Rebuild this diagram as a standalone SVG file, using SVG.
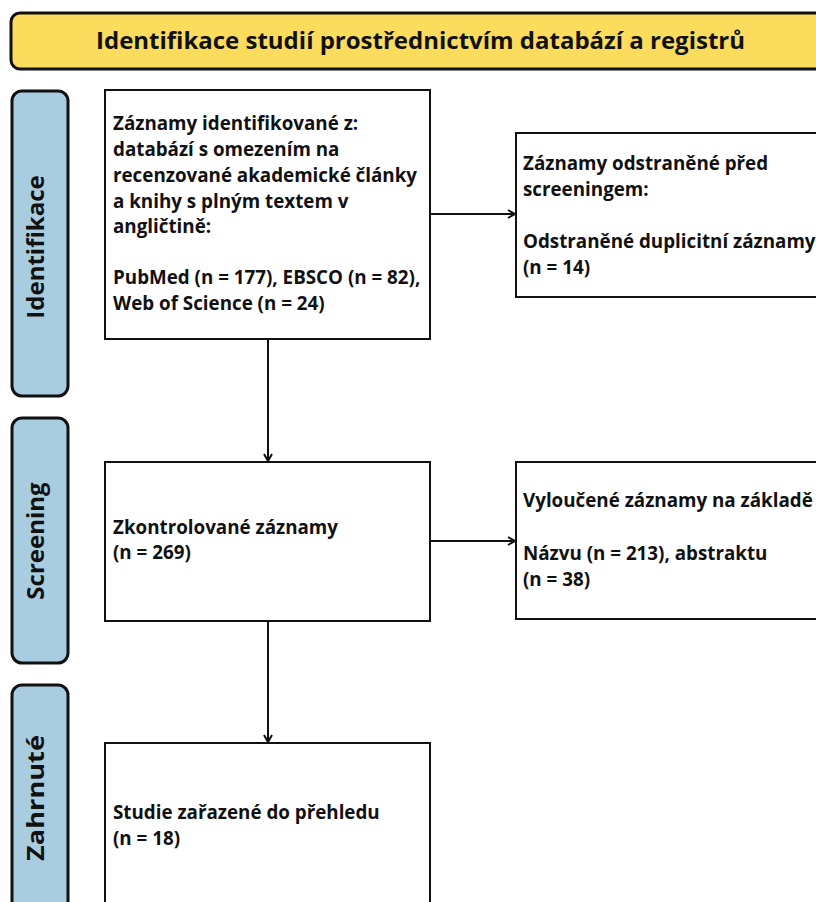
<svg xmlns="http://www.w3.org/2000/svg" width="816" height="902" viewBox="0 0 816 902">
<style>
.box{fill:#fff;stroke:#111;stroke-width:2}
.side{fill:#a9cde0;stroke:#111;stroke-width:3}
.t{font-family:"Open Sans","Noto Sans",sans-serif;font-weight:bold;font-size:18.8px;fill:#111}
.sl{font-family:"Open Sans","Noto Sans",sans-serif;font-weight:bold;font-size:24px;fill:#111;text-anchor:middle}
.ln{stroke:#111;stroke-width:2;fill:none}
</style>
<defs>
<marker id="ah" markerWidth="10" markerHeight="10" refX="8" refY="5" orient="auto" markerUnits="userSpaceOnUse">
<path d="M1,1 L8,5 L1,9" fill="none" stroke="#111" stroke-width="2"/>
</marker>
</defs>
<g id="title">
<rect x="11" y="13" width="820" height="56" rx="9" fill="#fcdc5c" stroke="#111" stroke-width="3"/>
<text x="96" y="49" font-family="'Open Sans','Noto Sans',sans-serif" font-weight="bold" font-size="22.5" textLength="649" lengthAdjust="spacingAndGlyphs" fill="#111">Identifikace studií prostřednictvím databází a registrů</text>
</g>
<g id="side-identifikace">
<rect class="side" x="12" y="91" width="56" height="305" rx="10"/>
<text class="sl" transform="translate(44,247) rotate(-90)">Identifikace</text>
</g>
<g id="side-screening">
<rect class="side" x="12" y="418" width="56" height="245" rx="10"/>
<text class="sl" transform="translate(44,541) rotate(-90)">Screening</text>
</g>
<g id="side-zahrnute">
<rect class="side" x="12" y="685" width="56" height="240" rx="10"/>
<text class="sl" transform="translate(44,798) rotate(-90)" textLength="126" lengthAdjust="spacingAndGlyphs">Zahrnuté</text>
</g>
<g id="box-identified">
<rect class="box" x="105" y="90" width="325" height="249"/>
<text class="t" x="113" y="130">Záznamy identifikované z:</text>
<text class="t" x="113" y="156">databází s omezením na</text>
<text class="t" x="113" y="182">recenzované akademické články</text>
<text class="t" x="113" y="208">a knihy s plným textem v</text>
<text class="t" x="113" y="233">angličtině:</text>
<text class="t" x="113" y="284">PubMed (n = 177), EBSCO (n = 82),</text>
<text class="t" x="113" y="310">Web of Science (n = 24)</text>
</g>
<g id="box-removed">
<rect class="box" x="516" y="133" width="320" height="164"/>
<text class="t" x="523" y="170">Záznamy odstraněné před</text>
<text class="t" x="523" y="196">screeningem:</text>
<text class="t" x="523" y="248">Odstraněné duplicitní záznamy</text>
<text class="t" x="523" y="274">(n = 14)</text>
</g>
<g id="box-screened">
<rect class="box" x="105" y="462" width="325" height="159"/>
<text class="t" x="113" y="534">Zkontrolované záznamy</text>
<text class="t" x="113" y="559">(n = 269)</text>
</g>
<g id="box-excluded">
<rect class="box" x="516" y="462" width="320" height="157"/>
<text class="t" x="523" y="507">Vyloučené záznamy na základě</text>
<text class="t" x="523" y="560">Názvu (n = 213), abstraktu</text>
<text class="t" x="523" y="586">(n = 38)</text>
</g>
<g id="box-included">
<rect class="box" x="105" y="743" width="325" height="200"/>
<text class="t" x="113" y="819">Studie zařazené do přehledu</text>
<text class="t" x="113" y="845">(n = 18)</text>
</g>
<g id="connectors">
<line class="ln" x1="430" y1="214" x2="515" y2="214" marker-end="url(#ah)"/>
<line class="ln" x1="268" y1="339" x2="268" y2="461" marker-end="url(#ah)"/>
<line class="ln" x1="430" y1="541" x2="515" y2="541" marker-end="url(#ah)"/>
<line class="ln" x1="268" y1="621" x2="268" y2="742" marker-end="url(#ah)"/>
</g>
</svg>
